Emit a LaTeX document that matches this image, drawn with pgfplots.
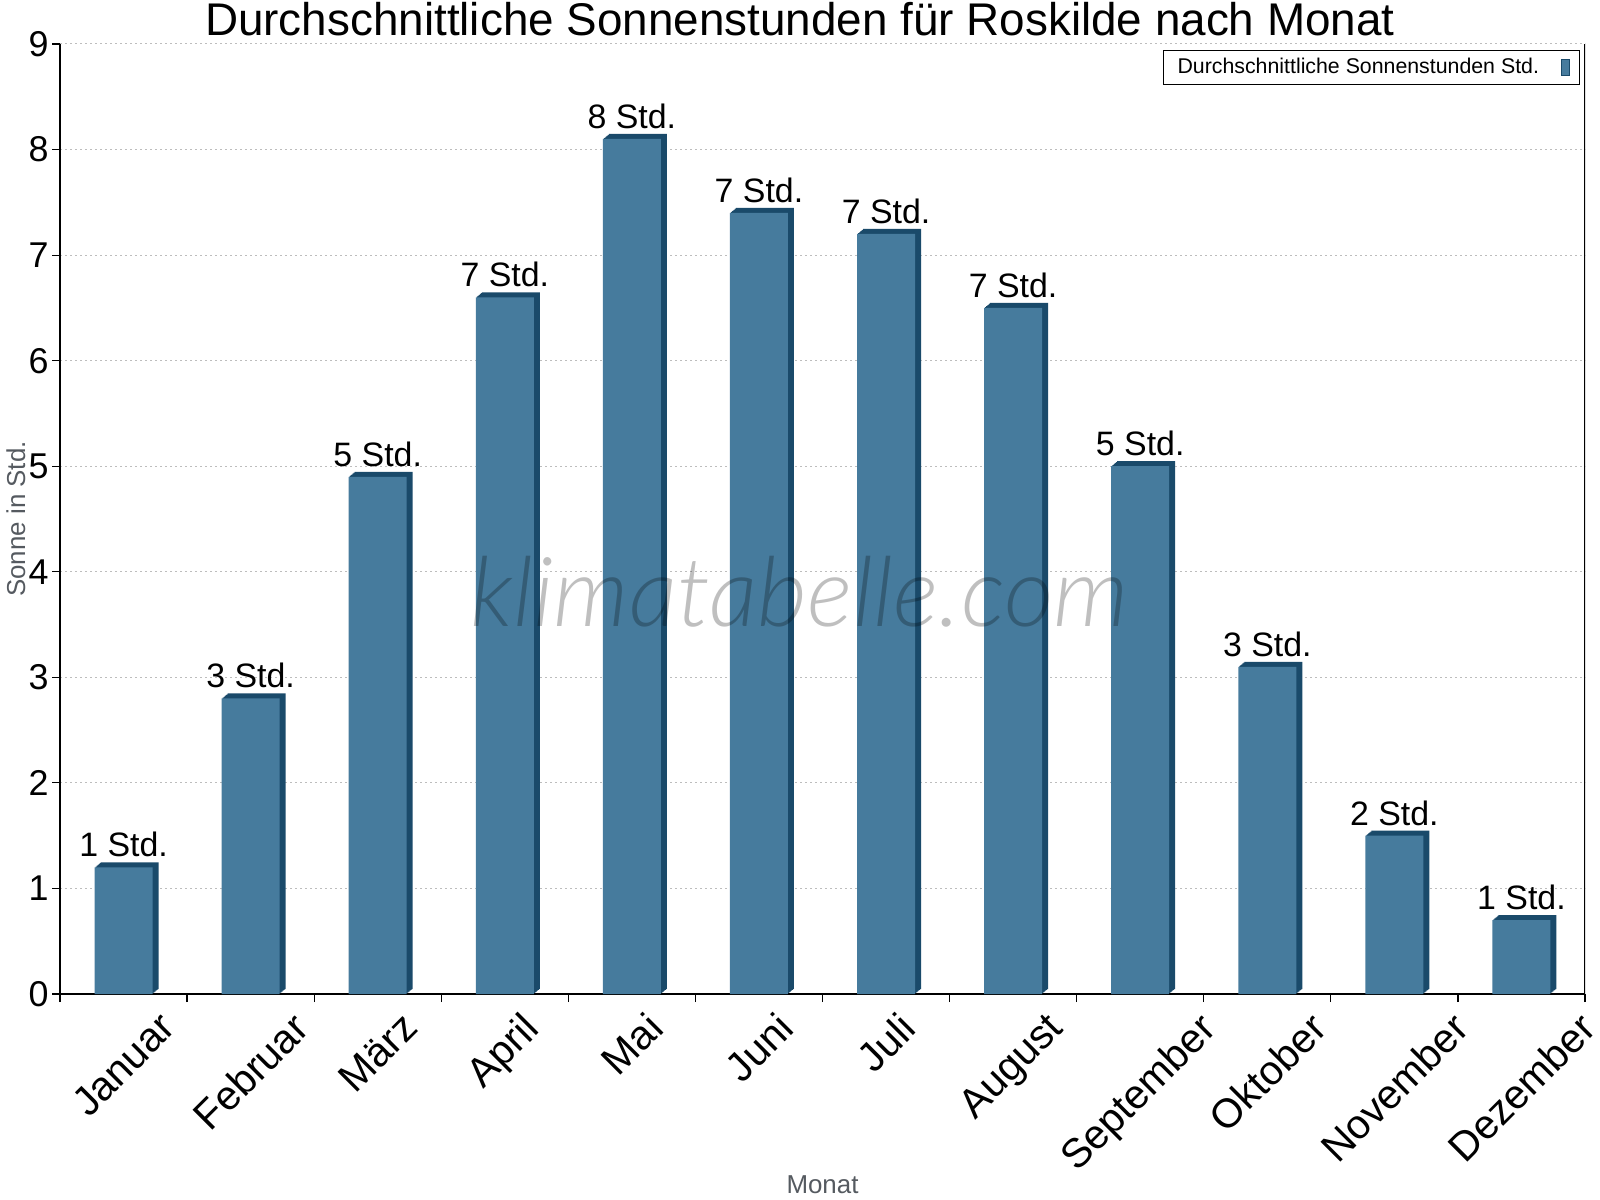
\documentclass[border=0pt]{standalone}
\usepackage{fontspec}
\setmainfont{Liberation Sans}
\newfontfamily\wmfont{Lato Light Italic}
\usepackage{graphicx}
\usepackage{pgfplots}
\pgfplotsset{compat=1.18}
\usepackage{pgfplotstable}
\definecolor{barfront}{HTML}{467B9D}
\definecolor{barside}{HTML}{1A4A6A}
\definecolor{labelgray}{HTML}{555A60}
\definecolor{gridgray}{HTML}{BDBDBD}
\newcommand{\R}[1]{\rotatebox{45}{#1}}
\pgfplotstableread[col sep=comma,row sep=\\]{
x,y,lab\\
1,1.2,1 Std.\\
2,2.8,3 Std.\\
3,4.9,5 Std.\\
4,6.6,7 Std.\\
5,8.1,8 Std.\\
6,7.4,7 Std.\\
7,7.2,7 Std.\\
8,6.5,7 Std.\\
9,5.0,5 Std.\\
10,3.1,3 Std.\\
11,1.5,2 Std.\\
12,0.7,1 Std.\\
}\data
\begin{document}
\begin{tikzpicture}
\begin{axis}[
  scale only axis,
  width=762.5bp, height=475bp,
  xmin=0.5, xmax=12.5, ymin=0, ymax=9,
  axis x line*=bottom, axis y line*=left,
  axis line style={line width=0.6bp, black},
  xtick={1,...,12},
  xticklabels={\R{Januar},\R{Februar},\R{März},\R{April},\R{Mai},\R{Juni},\R{Juli},\R{August},\R{September},\R{Oktober},\R{November},\R{Dezember}},
  major x tick style={draw=none},
  minor xtick={0.5,1.5,...,12.5},
  minor x tick style={line width=0.6bp, black},
  minor tick length=4bp,
  ytick={0,...,9},
  major y tick style={line width=0.6bp, black},
  major tick length=4bp,
  tick align=outside,
  ymajorgrids,
  grid style={color=gridgray, dash pattern=on 1bp off 1.5bp, line width=0.5bp},
  xticklabel style={anchor=north, inner sep=0pt, font=\fontsize{20.5}{23}\selectfont, yshift=-4bp},
  yticklabel style={anchor=east, inner sep=0pt, font=\fontsize{18}{20}\selectfont, xshift=-1.5bp},
  /pgf/number format/assume math mode=true,
  title={Durchschnittliche Sonnenstunden für Roskilde nach Monat},
  title style={at={(axis description cs:0.4852,0.9963)}, anchor=base, font=\fontsize{23}{26}\selectfont, inner sep=0pt},
  xlabel={Monat},
  xlabel style={at={(axis description cs:0.5,-0.2095)}, anchor=base, font=\fontsize{13}{15}\selectfont, text=labelgray, inner sep=0pt},
  ylabel={Sonne in Std.},
  ylabel style={at={(axis description cs:-0.0289,0.5)}, anchor=center, font=\fontsize{13}{15}\selectfont, text=labelgray, inner sep=0pt},
  legend style={at={(rel axis cs:1,1)}, anchor=north east, xshift=-2.5bp, yshift=-3bp, draw=black, line width=0.5bp, fill=white, font=\fontsize{10.7}{12}\selectfont, inner xsep=5bp, inner ysep=2bp},
  legend plot pos=right,
]
\pgfplotsinvokeforeach{1,...,6}{
  \addplot[ybar, bar shift=0pt, bar width=29bp, fill=barside, draw=none, xshift=#1*0.5bp, yshift=#1*0.4167bp, forget plot] table[x=x,y=y]{\data};
}
\addplot[ybar, bar shift=0pt, bar width=29bp, fill=barfront, draw=none,
  nodes near coords, point meta=explicit symbolic,
  every node near coord/.style={anchor=base, inner sep=0pt, yshift=5.3bp, font=\fontsize{17}{19}\selectfont, text=black},
  legend image code/.code={\path[draw=none, fill=none] (0bp,-4bp) rectangle (9bp,4bp); \draw[fill=barfront, draw=barside, line width=0.5bp] (9bp,-4bp) rectangle (13bp,4bp);}
  ] table[x=x,y=y,meta=lab]{\data};
\addlegendentry{Durchschnittliche Sonnenstunden Std.}
\draw[line width=0.6bp, black] (rel axis cs:1,0) -- (rel axis cs:1,1);
\node[font=\fontsize{48.5}{54}\selectfont\wmfont, text=black, opacity=0.25] at (rel axis cs:0.485,0.423) {klimatabelle.com};
\coordinate (LL) at (rel axis cs:0,0);
\end{axis}
\pgfresetboundingbox
\path ([shift={(-30bp,-103bp)}]LL) rectangle ++(800bp,600bp);
\end{tikzpicture}
\end{document}
